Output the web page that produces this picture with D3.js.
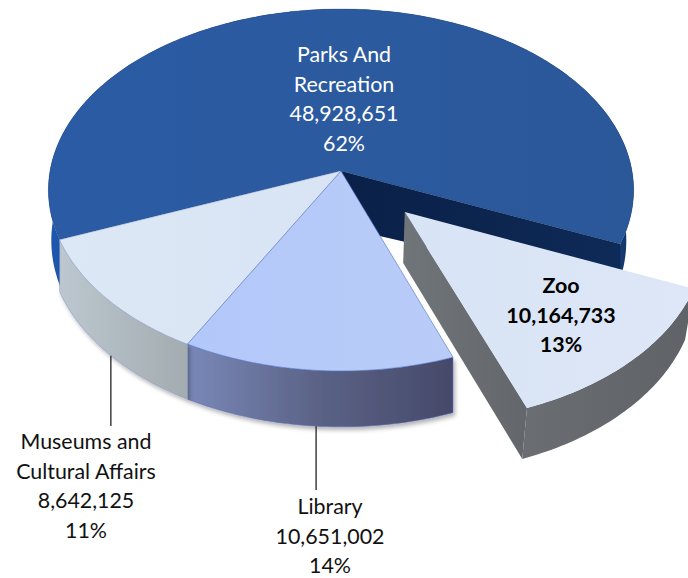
<!DOCTYPE html>
<html><head><meta charset="utf-8">
<script src="https://cdn.jsdelivr.net/npm/d3@7"></script>
<style>html,body{margin:0;padding:0;background:#fff}svg{display:block}text{font-family:Lato,"Open Sans",sans-serif;font-size:21.4px}</style>
</head><body><div id="c"></div>
<script>
const categories = ["Parks And Recreation","Zoo","Library","Museums and Cultural Affairs"];
const values = [48928651,10164733,10651002,8642125];
const percents = ["62%","13%","14%","11%"];
const valueLabels = ["48,928,651","10,164,733","10,651,002","8,642,125"];

const W=688,H=578, cx=341, cy=171, k=0.105, depth=50;
const sx=d3.scaleLinear().domain([-1,1]).range([cx-291,cx+291]);
const sy=d3.scaleLinear().domain([-1,1]).range([cy-179,cy+179]);
const rad=d=>d*Math.PI/180;
const pie=d3.pie().sort(null).startAngle(rad(248.3)).endAngle(rad(608.3));
const arcs=pie(values);
const svg=d3.select("#c").append("svg").attr("width",W).attr("height",H);
const defs=svg.append("defs");
function grad(id,stops,x2=1,y2=0){
  const g=defs.append("linearGradient").attr("id",id).attr("x1",0).attr("y1",0).attr("x2",x2).attr("y2",y2);
  stops.forEach(s=>g.append("stop").attr("offset",s[0]).attr("stop-color",s[1]));
  return `url(#${id})`;
}
const f=defs.append("filter").attr("id","sh").attr("x","-10%").attr("y","-10%").attr("width","120%").attr("height","120%");
f.append("feDropShadow").attr("dx",2).attr("dy",3).attr("stdDeviation",2).attr("flood-color","#000").attr("flood-opacity",.3);
const soft=defs.append("filter").attr("id","soft").attr("x","-5%").attr("y","-5%").attr("width","110%").attr("height","110%");
soft.append("feGaussianBlur").attr("stdDeviation",.7);

// disc point (radius r at angle a, clockwise from top), exploded by e along angle m
function P(a,r,e,m,dep,shrink){
  const u=r*Math.sin(a)+e*Math.sin(m), v=-r*Math.cos(a)-e*Math.cos(m);
  const w=1-k*v;
  let x=sx(u/w), y=sy(v/w);
  if(shrink) x=cx+(x-cx)*(x<cx?shrink[0]:shrink[1]);
  return [x,y+dep(w)];
}
const line=d3.line();
const steps=(a0,a1)=>{const n=Math.ceil(Math.abs(a1-a0)/rad(1));return d3.range(n+1).map(i=>a0+(a1-a0)*i/n);};
const flat=()=>0, low=w=>depth/w;
function arcPts(a0,a1,e,m,dep,sh){return steps(a0,a1).map(a=>P(a,1,e,m,dep,sh));}
function face(a0,a1,e,m){return line([P(a0,0,e,m,flat),...arcPts(a0,a1,e,m,flat)])+"Z";}
function outer(a0,a1,e,m,dep,sh){return line([...arcPts(a0,a1,e,m,flat),...arcPts(a1,a0,e,m,dep,sh)])+"Z";}

const [parks,zoo,lib,mus]=arcs;
const zm=(zoo.startAngle+zoo.endAngle)/2, ze=0.31;
const G=svg.append("g");

// Parks: outer wall, top, cut wall
G.append("path").attr("d",outer(parks.startAngle,parks.endAngle,0,0,low,[.99,.975]))
 .attr("fill",grad("pw",[[0,"#1d57ae"],[.5,"#1f4f98"],[.95,"#1c4688"],[1,"#12305f"]]));
G.append("path").attr("d",face(parks.startAngle,parks.endAngle,0,0))
 .attr("fill",grad("pt",[[0,"#2a5ba4"],[.5,"#2c5a9f"],[1,"#2a5899"]]))
 .attr("stroke","#1b3a6c").attr("stroke-width",.6).attr("stroke-opacity",.45);
const A=P(parks.endAngle,1,0,0,flat), C0=P(0,0,0,0,flat);
const Ab=P(parks.endAngle,1,0,0,w=>46/w), Cb=P(0,0,0,0,()=>56);
G.append("path").attr("d",line([C0,A,Ab,Cb])+"Z")
 .attr("fill",grad("cw",[[0,"#0a2048"],[.6,"#0c2650"],[1,"#0e2a58"]]));

// Library
G.append("path").attr("d",outer(lib.startAngle,lib.endAngle,0,0,low)).attr("filter","url(#sh)")
 .attr("fill",grad("lw",[[0,"#7a88b8"],[.5,"#5a6285"],[1,"#46496a"]]))
 .attr("stroke","#5b6fc0").attr("stroke-width",.5);
// Museums
G.append("path").attr("d",outer(mus.startAngle,mus.endAngle,0,0,low)).attr("filter","url(#sh)")
 .attr("fill",grad("mw",[[0,"#bcc7cf"],[.6,"#acb6bc"],[1,"#a3adb0"]]))
 .attr("stroke","#7f90c8").attr("stroke-width",.5);
G.append("path").attr("d",face(mus.startAngle,mus.endAngle,0,0))
 .attr("fill",grad("mt",[[0,"#dde8f6"],[1,"#d8e4f4"]]))
 .attr("stroke","#8a9cc8").attr("stroke-width",.4);
G.append("path").attr("d",face(lib.startAngle,lib.endAngle,0,0))
 .attr("fill",grad("lt",[[0,"#b3c8fa"],[1,"#b9ccf8"]]))
 .attr("stroke","#4f6fb8").attr("stroke-width",.6);

// Zoo, exploded
const zd=()=>51, zs=[.975,.975];
const zc=P(0,0,ze,zm,flat), zcb=P(0,0,ze,zm,zd,zs);
const zb=P(zoo.endAngle,1,ze,zm,flat), zbb=P(zoo.endAngle,1,ze,zm,zd,zs);
G.append("path").attr("d",outer(zoo.startAngle,zoo.endAngle,ze,zm,zd,zs))
 .attr("fill",grad("zw",[[0,"#6a6e72"],[1,"#5f6368"]]));
G.append("path").attr("d",line([zc,zb,zbb,zcb])+"Z")
 .attr("fill",grad("zs",[[0,"#70757a"],[1,"#63676c"]]));
G.append("path").attr("d",face(zoo.startAngle,zoo.endAngle,ze,zm)).attr("filter","url(#soft)")
 .attr("fill",grad("zt",[[0,"#d8e3f5"],[1,"#dde7f7"]]));

// Leader lines: [slice, share along its arc, end]
const leaders=[[lib,.505,490],[mus,.47,426]];
leaders.forEach(([d,t,yEnd])=>{
  const p=P(d.startAngle+(d.endAngle-d.startAngle)*t,1,0,0,low);
  svg.append("line").attr("x1",p[0]).attr("x2",p[0]).attr("y1",p[1]).attr("y2",yEnd)
    .attr("stroke","#222").attr("stroke-width",1.3);
});

// Labels
function label(x,lines,y0,col,bold){
  const t=svg.append("text").attr("text-anchor","middle").attr("fill",col).attr("font-weight",bold?700:400);
  lines.forEach((s,i)=>t.append("tspan").attr("x",x).attr("y",y0+i*29.6).text(s));
}
label(344,["Parks And","Recreation",valueLabels[0],percents[0]],62,"#fff");
label(561,["Zoo",valueLabels[1],percents[1]],293,"#000",true);
label(330,["Library",valueLabels[2],percents[2]],514,"#111");
label(86,["Museums and","Cultural Affairs",valueLabels[3],percents[3]],449,"#111");
</script></body></html>
